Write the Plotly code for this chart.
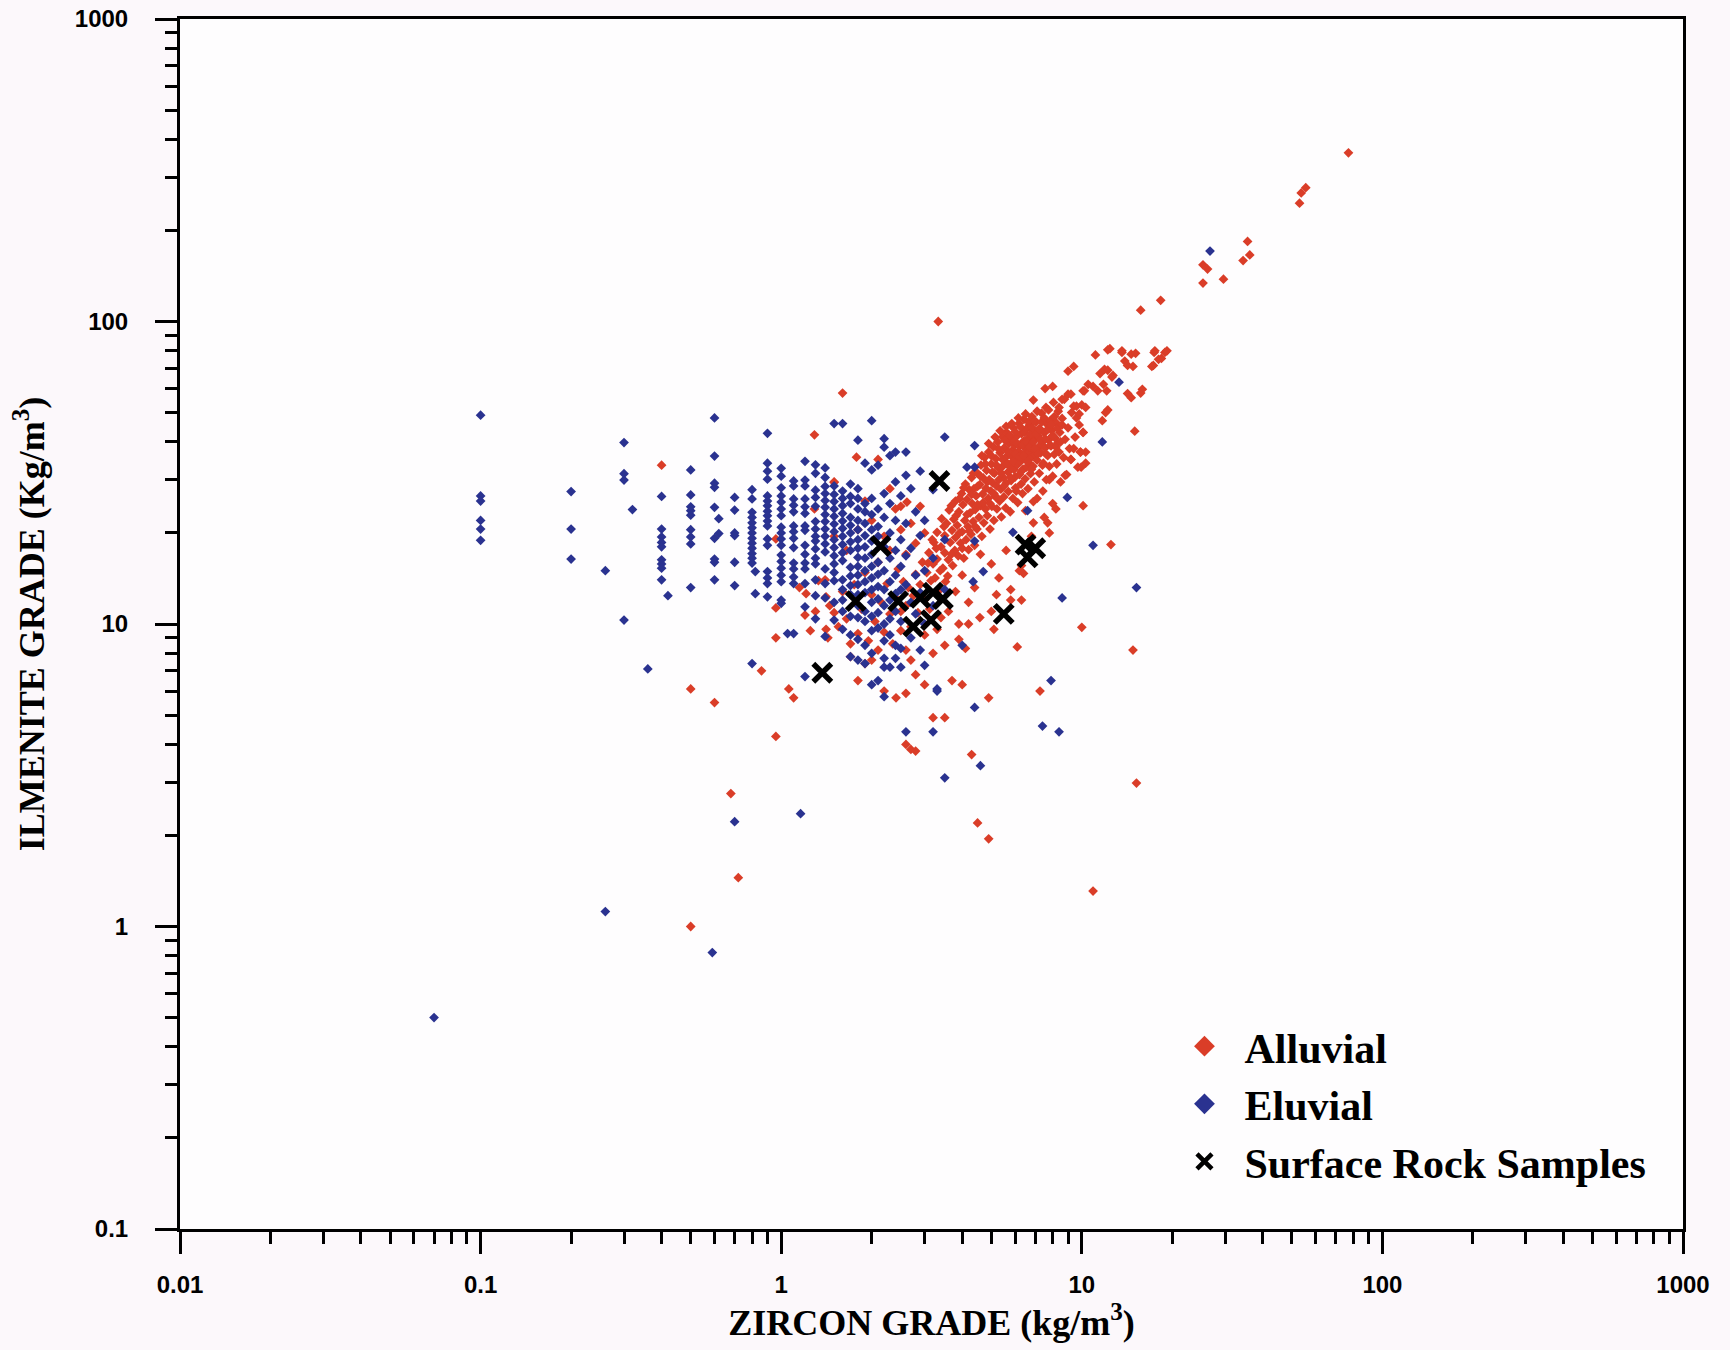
import plotly.graph_objects as go

# ---------------- DATA ----------------
# Eluvial samples: zircon grades are recorded in 0.1 steps below ~3 kg/m3,
# so they are kept as columns (x value -> list of ilmenite grades).
eluvial_col_x = [0.1, 0.2, 0.3, 0.4, 0.5, 0.6, 0.7, 0.8, 0.9, 1.0, 1.1, 1.2, 1.3, 1.4, 1.5,
                 1.6, 1.7, 1.8, 1.9, 2.0, 2.1, 2.2, 2.3, 2.4, 2.5, 2.6, 2.7, 2.8, 2.9, 3.0, 3.2, 3.5]
eluvial_col_y = [
    [49, 26.5, 25.5, 22, 20.6, 18.9],
    [27.4, 20.6, 16.4],
    [39.8, 31.4, 29.9, 10.3],
    [26.4, 20.6, 19.4, 18.6, 18.0, 16.3, 15.8, 15.3, 14.0],
    [32.3, 26.7, 24.4, 23.7, 22.9, 20.5, 19.4, 18.4, 13.2],
    [48, 35.9, 29.2, 28.3, 24.3, 19.2, 16.4, 16.0, 14.0],
    [26.2, 23.8, 20.0, 19.6, 16.0, 13.4, 2.22],
    [27.8, 25.9, 23.4, 22.5, 21.6, 20.8, 20.0, 19.2, 18.5, 17.8, 17.1, 16.5, 15.9, 7.4],
    [42.7, 34.0, 32.0, 30.1, 26.5, 25.5, 24.6, 23.6, 22.8, 21.9, 21.1, 19.1, 18.2, 14.9, 14.2, 13.6, 12.3],
    [32.7, 30.8, 28.2, 26.5, 25.3, 24.0, 22.8, 20.9, 20.0, 19.1, 18.2, 16.9, 16.1, 15.3, 14.5, 13.8, 12.0, 11.7],
    [29.7, 28.6, 25.9, 24.7, 23.5, 21.1, 20.2, 19.2, 17.9, 15.9, 15.2, 14.3, 13.6, 9.3],
    [34.5, 29.9, 28.6, 25.9, 24.4, 23.2, 21.1, 20.4, 18.2, 17.0, 15.9, 15.2, 13.6, 11.4, 6.7],
    [33.6, 31.5, 27.7, 26.2, 24.5, 21.8, 20.6, 19.5, 18.8, 17.7, 16.5, 15.8, 14.0, 12.4, 10.4],
    [32.8, 30.5, 28.5, 27.0, 25.6, 24.3, 23.0, 21.8, 20.6, 19.5, 18.4, 17.3, 15.2, 13.6, 12.2, 9.1],
    [46, 28.6, 26.8, 25.4, 24.0, 22.7, 21.4, 20.2, 19.0, 17.9, 16.8, 15.8, 14.8, 13.9, 11.8, 10.3],
    [46, 27.5, 26.0, 24.6, 23.2, 21.9, 20.7, 19.5, 18.3, 17.2, 16.2, 14.0, 13.0, 12.0, 11.0, 9.6],
    [29.0, 26.4, 25.0, 22.5, 21.2, 20.0, 18.7, 17.5, 15.4, 14.4, 13.4, 12.5, 10.6, 9.2, 7.8],
    [40.5, 28.0, 26.0, 24.0, 22.0, 20.5, 19.0, 17.8, 16.6, 15.5, 14.5, 13.5, 12.5, 11.5, 10.5, 8.9, 7.6],
    [34.0, 25.0, 23.5, 21.5, 19.6, 18.0, 16.5, 15.0, 13.8, 12.7, 11.0, 10.2, 8.5, 7.4],
    [47, 32.3, 26.0, 23.0, 20.5, 18.8, 17.0, 15.5, 14.2, 13.0, 11.8, 10.6, 9.5, 8.0, 6.3],
    [33.5, 24.0, 21.0, 19.5, 16.0, 14.6, 13.3, 12.1, 10.9, 9.7, 6.5],
    [41, 38.4, 27.0, 22.5, 18.0, 15.0, 13.0, 11.5, 10.0, 8.8, 7.7, 7.2, 5.75],
    [36.0, 25.0, 20.0, 16.5, 13.8, 12.0, 10.4, 9.2, 7.2],
    [37, 29.5, 22.0, 17.5, 14.5, 12.6, 11.0, 8.5, 7.7],
    [26.5, 19.0, 15.5, 13.0, 10.2, 8.3, 7.2],
    [37, 31.0, 21.5, 16.8, 13.5, 4.4],
    [28.0, 17.8, 11.8, 9.0],
    [23.5, 14.5, 10.8],
    [32, 19.6, 12.7, 8.2],
    [22.0, 15.0, 10.0, 7.3],
    [27.8, 16.5, 11.5, 4.4],
    [41.5, 19.0, 13.0, 3.1],
]
# Eluvial samples off the 0.1 grid / isolated points
eluvial_extra_x = [0.07, 0.26, 0.26, 0.32, 0.36, 0.42, 0.62, 0.62, 0.82, 0.82, 0.59, 1.05, 1.16,
                   3.3, 4.15, 4.4, 4.4, 4.4, 4.35, 4.7, 4.4, 4.6, 3.3, 5.9, 6.6, 8.95, 10.9,
                   11.7, 13.3, 15.2, 8.6, 7.4, 8.4, 26.7, 7.9, 4.0]
eluvial_extra_y = [0.5, 15.0, 1.12, 23.9, 7.1, 12.4, 22.3, 19.9, 14.9, 12.6, 0.82, 9.3, 2.36,
                   6.1, 33.0, 33.0, 38.9, 18.8, 13.8, 14.9, 5.3, 3.4, 6.0, 20.1, 23.7, 26.2, 18.2,
                   40.0, 63.0, 13.2, 12.2, 4.6, 4.4, 171, 6.5, 8.5]

# Alluvial samples: dense band along the diagonal (x, y)
alluvial_band = [
    (2.6, 11.5), (2.65, 13.2), (2.7, 9.8), (2.75, 12.4), (2.8, 14.6), (2.85, 10.9), (2.9, 13.5),
    (2.95, 16.0), (3.0, 12.0), (3.05, 14.8), (3.1, 17.2), (3.12, 11.2), (3.15, 13.9), (3.2, 15.8),
    (3.22, 18.6),
    (3.25, 14.2), (3.3, 16.4), (3.3, 20.1), (3.35, 12.9), (3.4, 18.0), (3.42, 22.3), (3.45, 15.3),
    (3.5, 17.2), (3.5, 19.6), (3.55, 21.5), (3.58, 14.4), (3.6, 16.3), (3.62, 23.8), (3.65, 18.6),
    (3.7, 20.4), (3.72, 15.6), (3.75, 22.2), (3.78, 17.5), (3.8, 25.5), (3.8, 19.3),
    (3.85, 21.2), (3.88, 16.8), (3.9, 23.5), (3.95, 18.5), (3.98, 27.0), (4.0, 20.2), (4.02, 24.8),
    (4.05, 16.5), (4.08, 22.0), (4.1, 29.0), (4.12, 19.0), (4.15, 25.8), (4.18, 21.0), (4.2, 17.6),
    (4.22, 27.8), (4.25, 23.3), (4.28, 19.8), (4.3, 30.5), (4.32, 25.0), (4.35, 21.8), (4.38, 28.0),
    (4.4, 18.2), (4.42, 23.9), (4.45, 26.5), (4.48, 20.6), (4.5, 31.5),
    (4.55, 22.5), (4.58, 28.9), (4.6, 24.6), (4.62, 33.5), (4.65, 19.5), (4.68, 26.9), (4.7, 30.4),
    (4.72, 21.6), (4.75, 35.5), (4.78, 24.0), (4.8, 28.1), (4.82, 32.2), (4.85, 22.8), (4.88, 26.0),
    (4.9, 37.0), (4.92, 30.0), (4.95, 20.6), (4.98, 27.5), (5.0, 33.8), (5.02, 24.5), (5.05, 29.3),
    (5.08, 38.5), (5.1, 22.0), (5.12, 31.5), (5.15, 26.4), (5.18, 35.2), (5.2, 28.6), (5.22, 24.0),
    (5.25, 40.0), (5.28, 32.8), (5.3, 30.0),
    (5.33, 25.5), (5.35, 36.8), (5.38, 27.9), (5.4, 22.6), (5.42, 33.0), (5.45, 41.5), (5.48, 30.5),
    (5.5, 26.3), (5.52, 38.2), (5.55, 34.6), (5.58, 24.2), (5.6, 29.2), (5.62, 43.0), (5.65, 36.0),
    (5.68, 31.8), (5.7, 27.4), (5.72, 39.5), (5.75, 33.2), (5.78, 23.5), (5.8, 41.0), (5.82, 29.8),
    (5.85, 35.8), (5.88, 37.6), (5.9, 26.0), (5.92, 44.5), (5.95, 32.4), (5.98, 39.0), (6.0, 30.6),
    (6.02, 28.2), (6.05, 35.0), (6.08, 41.8), (6.1, 33.6), (6.12, 25.2), (6.15, 37.2), (6.18, 46.0),
    (6.2, 31.2),
    (6.22, 38.8), (6.25, 34.4), (6.28, 29.0), (6.3, 42.6), (6.32, 36.4), (6.35, 27.0), (6.38, 32.5),
    (6.4, 40.2), (6.42, 47.5), (6.45, 35.2), (6.48, 30.2), (6.5, 38.0), (6.52, 44.0), (6.55, 33.0),
    (6.58, 36.8), (6.6, 41.0), (6.62, 28.0), (6.65, 39.2), (6.68, 34.0), (6.7, 45.5), (6.72, 37.0),
    (6.75, 31.4), (6.78, 42.2), (6.8, 35.6), (6.82, 48.5), (6.85, 39.8), (6.88, 33.2), (6.9, 43.5),
    (6.92, 37.8), (6.95, 29.5), (6.98, 40.8), (7.0, 36.2), (7.05, 46.5), (7.1, 34.8), (7.15, 41.8),
    (7.2, 38.6),
    (7.22, 31.5), (7.25, 44.2), (7.3, 36.8), (7.35, 49.8), (7.4, 40.0), (7.42, 27.5), (7.45, 34.0),
    (7.5, 42.8), (7.55, 38.2), (7.6, 52.0), (7.62, 30.0), (7.65, 45.8), (7.7, 36.0), (7.75, 40.6),
    (7.8, 33.2), (7.85, 47.0), (7.9, 38.8), (7.95, 43.6), (8.0, 30.8), (8.05, 54.0), (8.1, 36.4),
    (8.15, 41.2), (8.2, 46.4), (8.25, 33.8), (8.3, 39.6), (8.35, 50.5), (8.4, 37.0), (8.45, 43.0),
    (8.5, 29.5),
    (8.6, 47.8), (8.7, 35.5), (8.75, 55.3), (8.8, 40.8), (8.9, 31.2), (9.0, 44.5), (9.0, 57.5),
    (9.1, 38.0), (9.2, 35.0), (9.25, 50.0), (9.4, 52.5), (9.5, 41.5), (9.6, 48.0), (9.7, 33.0),
    (9.8, 49.5), (9.9, 37.0), (10.0, 53.0), (10.1, 43.0), (10.2, 59.0), (10.3, 37.0), (10.3, 52.0),
    (10.5, 62.0),
]
# Alluvial samples: further points filling the core of the band
alluvial_core = [
    (3.08, 15.9), (3.18, 19.0), (3.28, 17.8), (3.38, 15.0), (3.48, 21.0), (3.52, 13.8),
    (3.68, 24.6), (3.68, 17.0), (3.82, 22.8), (3.92, 20.0), (3.92, 26.0), (4.0, 17.8),
    (4.05, 28.2), (4.15, 23.0), (4.22, 20.3), (4.3, 26.8), (4.36, 31.5), (4.42, 21.0),
    (4.5, 24.8), (4.5, 28.5),
    (4.6, 30.8), (4.65, 36.0), (4.7, 25.2), (4.78, 33.8), (4.85, 29.5), (4.9, 39.5), (4.95, 25.0),
    (5.0, 36.0), (5.05, 31.8), (5.1, 27.0), (5.15, 41.5), (5.2, 33.5), (5.25, 26.0), (5.3, 37.8),
    (5.35, 43.5), (5.4, 31.5), (5.45, 35.0), (5.5, 28.5), (5.55, 40.5), (5.6, 45.0), (5.65, 33.8),
    (5.7, 37.0), (5.75, 42.0), (5.8, 30.5), (5.85, 46.0), (5.9, 34.5), (5.95, 40.0), (6.0, 36.5),
    (6.0, 43.2), (6.05, 27.5),
    (6.1, 39.5), (6.15, 48.0), (6.2, 35.8), (6.25, 44.8), (6.3, 32.0), (6.35, 39.0), (6.4, 36.0),
    (6.45, 43.0), (6.5, 49.5), (6.55, 40.0), (6.6, 34.5), (6.65, 46.5), (6.7, 38.5), (6.75, 42.5),
    (6.8, 32.5), (6.85, 44.5), (6.9, 40.0), (6.95, 47.0), (7.0, 38.0), (7.05, 42.5), (7.1, 50.5),
    (7.15, 36.5), (7.2, 44.0), (7.3, 40.5), (7.35, 46.5), (7.4, 33.5), (7.5, 48.0), (7.55, 41.0),
    (7.6, 36.5), (7.7, 44.0), (7.75, 51.0), (7.85, 39.0), (7.9, 45.5), (8.0, 42.0), (8.1, 48.5),
    (8.2, 38.5), (8.3, 44.5), (8.4, 52.0), (8.5, 40.0), (8.6, 45.5),
]
# Alluvial samples: upper edge of the band and the high-grade tail
alluvial_tail = [
    (11.1, 77.5), (12.2, 80.6), (13.6, 79), (13.9, 74), (14.6, 78), (15.1, 78.5), (17.4, 79),
    (18.9, 79), (18.0, 75), (17.1, 71), (14.8, 71), (9.0, 68.5), (9.4, 71), (11.5, 67.3),
    (12.2, 69), (12.7, 66.3), (7.55, 60), (8.0, 61), (6.9, 55), (8.6, 55.3), (9.2, 57.5),
    (10.1, 59), (10.9, 61), (11.3, 59), (11.8, 62), (12.1, 59), (14.6, 56), (15.7, 58),
    (12.2, 51), (12.0, 50), (11.7, 47), (15.0, 43.4), (9.6, 52.5), (9.8, 45.5), (10.1, 43),
    (9.9, 37), (10.3, 34), (9.4, 38), (9.95, 33), (9.2, 35), (8.8, 31), (7.8, 30), (7.1, 26),
    (6.9, 25.4), (8.0, 25), (6.5, 23.7), (6.9, 21.6), (7.7, 21.6), (10.1, 24.6), (12.5, 18.3),
    (7.8, 20), (6.3, 15.6), (6.4, 14.7), (5.8, 12.0), (6.3, 12.0),
    (12.4, 81.3), (13.6, 80), (17.5, 80), (19.2, 80), (18.4, 75.5), (17.3, 71.6), (14.2, 71.6),
    (11.9, 69.5), (12.6, 65.5), (15.9, 59.7), (14.2, 57.8), (15.7, 109), (18.3, 117.5),
    (25.3, 154), (26.2, 149), (25.3, 134), (29.6, 138), (35.6, 184), (36.2, 166), (34.4, 159),
    (53.0, 246), (53.7, 266), (55.6, 277), (77.1, 361),
]
# Alluvial samples: mixed zone with eluvial samples and isolated points
alluvial_scatter = [
    (0.4, 33.5), (0.5, 6.1), (0.6, 5.5), (0.68, 2.75), (0.72, 1.45), (0.5, 1.0), (0.96, 4.25),
    (0.86, 7.0), (1.06, 6.1), (1.1, 5.7), (1.29, 42.2), (1.6, 58), (1.5, 29.4), (1.29, 24.0),
    (0.96, 19.1), (1.33, 13.9), (1.21, 12.6), (1.2, 10.7), (1.41, 12.3), (1.41, 9.6), (1.43, 9.0),
    (1.5, 10.9), (0.96, 11.3), (0.96, 9.0), (1.7, 7.8), (1.9, 7.4), (2.0, 7.6), (2.41, 5.7),
    (2.8, 6.8), (3.2, 4.9), (3.5, 4.9), (2.6, 4.0), (2.8, 3.8), (4.3, 3.7), (4.5, 2.2),
    (4.9, 1.95), (4.0, 6.3), (3.7, 6.5), (4.9, 5.7), (7.26, 6.0), (6.1, 8.4), (10.0, 9.75),
    (10.9, 1.31), (15.2, 2.98), (14.8, 8.2), (3.33, 100), (4.58, 10.5), (4.2, 10.0), (3.9, 10.0),
    (3.5, 8.5), (4.1, 8.3), (5.1, 9.6), (2.7, 3.85),
    (1.4, 14.0), (1.45, 11.5), (1.55, 9.8), (1.6, 12.8), (1.65, 10.4), (1.7, 8.6), (1.75, 13.5),
    (1.8, 9.3), (1.85, 11.2), (1.9, 14.8), (1.95, 8.8), (2.0, 12.5), (2.05, 10.2), (2.1, 16.0),
    (2.1, 8.2), (2.15, 11.8), (2.2, 9.4), (2.25, 13.6), (2.3, 17.5), (2.3, 10.8), (2.35, 8.6),
    (2.4, 12.2), (2.45, 15.2), (2.5, 9.5), (2.5, 11.0), (2.55, 13.8), (2.6, 8.2), (2.6, 17.0),
    (1.65, 17.5), (1.8, 20.5), (2.0, 22.0), (2.2, 19.5), (2.4, 24.0), (2.5, 20.5), (2.7, 21.5),
    (2.8, 18.5), (2.9, 24.5), (3.0, 20.0), (1.5, 19.5), (1.9, 25.5), (2.3, 28.0), (1.15, 13.2),
    (1.3, 11.0), (1.25, 9.5), (1.8, 6.5), (2.2, 6.0), (2.6, 5.9), (3.0, 6.3), (2.7, 7.6),
    (3.2, 8.0), (3.0, 9.2), (3.3, 9.6), (2.1, 35.0), (1.78, 35.6), (1.5, 29.5), (2.5, 24.5),
    (2.62, 25.3),
    (4.6, 17.0), (5.0, 15.8), (5.3, 14.2), (5.8, 13.0), (6.2, 15.0), (5.6, 17.5), (6.8, 19.5),
    (7.5, 22.5), (8.2, 24.0), (5.2, 12.5), (4.4, 13.2), (4.0, 14.5), (3.8, 12.8), (4.2, 11.8),
    (3.6, 11.0), (3.4, 10.5), (5.0, 11.0), (3.9, 8.9),
]

# Surface rock samples
rock_x = [3.36, 2.14, 1.77, 2.45, 2.9, 3.2, 3.45, 2.75, 3.15, 5.5, 6.5, 7.0, 6.6, 1.37]
rock_y = [29.7, 18.1, 11.9, 11.9, 12.2, 12.7, 12.1, 9.8, 10.3, 10.8, 18.3, 17.8, 16.6, 6.9]

# Axis ticks
x_tick_vals = [0.01, 0.1, 1, 10, 100, 1000]
x_tick_text = ["0.01", "0.1", "1", "10", "100", "1000"]
y_tick_vals = [0.1, 1, 10, 100, 1000]
y_tick_text = ["0.1", "1", "10", "100", "1000"]

# ---------------- BUILD ----------------
eluvial_x, eluvial_y = [], []
for cx, ys in zip(eluvial_col_x, eluvial_col_y):
    for yv in ys:
        eluvial_x.append(cx)
        eluvial_y.append(yv)
eluvial_x += eluvial_extra_x
eluvial_y += eluvial_extra_y

alluvial_all = alluvial_band + alluvial_core + alluvial_tail + alluvial_scatter
alluvial_x = [p[0] for p in alluvial_all]
alluvial_y = [p[1] for p in alluvial_all]

RED = "#da3d28"
BLUE = "#2a3290"
SERIF = "Liberation Serif"
SANS = "Liberation Sans"

minor_x = [m * 10.0 ** e for e in range(-2, 3) for m in range(2, 10)]
minor_y = [m * 10.0 ** e for e in range(-1, 3) for m in range(2, 10)]

fig = go.Figure()
fig.add_trace(go.Scatter(x=alluvial_x, y=alluvial_y, mode="markers", showlegend=False,
                         marker=dict(symbol="diamond", size=7.5, color=RED, line=dict(width=0))))
fig.add_trace(go.Scatter(x=eluvial_x, y=eluvial_y, mode="markers", showlegend=False,
                         marker=dict(symbol="diamond", size=7.5, color=BLUE, line=dict(width=0))))
fig.add_trace(go.Scatter(x=rock_x, y=rock_y, mode="markers", showlegend=False,
                         marker=dict(symbol="x-thin", size=18, color="black",
                                     line=dict(width=5.5, color="black"))))

# legend entries
fig.add_trace(go.Scatter(x=[None], y=[None], mode="markers", name="Alluvial",
                         marker=dict(symbol="diamond", size=16, color=RED)))
fig.add_trace(go.Scatter(x=[None], y=[None], mode="markers", name="Eluvial",
                         marker=dict(symbol="diamond", size=16, color=BLUE)))
fig.add_trace(go.Scatter(x=[None], y=[None], mode="markers", name="Surface Rock Samples",
                         marker=dict(symbol="x-thin", size=15, color="black",
                                     line=dict(width=4.5, color="black"))))

axis_common = dict(
    type="log", showgrid=False, zeroline=False, showline=True, linecolor="black",
    linewidth=3, mirror=True, ticks="outside", ticklen=22, tickwidth=3, tickcolor="black",
    tickmode="array", automargin=False,
    tickfont=dict(family=SANS, size=24, color="black", weight="bold"),
)

fig.update_xaxes(
    **axis_common, range=[-2, 3], tickvals=x_tick_vals, ticktext=x_tick_text,
    ticklabelstandoff=10,
    minor=dict(tickmode="array", tickvals=minor_x, ticks="outside", ticklen=12, tickwidth=3,
               tickcolor="black", showgrid=False),
    title=dict(text="ZIRCON GRADE (kg/m<sup>3</sup>)", standoff=14,
               font=dict(family=SERIF, size=36, color="black", weight="bold")),
)
fig.update_yaxes(
    **axis_common, range=[-1, 3], tickvals=y_tick_vals, ticktext=y_tick_text,
    ticklabelstandoff=22,
    minor=dict(tickmode="array", tickvals=minor_y, ticks="outside", ticklen=12, tickwidth=3,
               tickcolor="black", showgrid=False),
    title=dict(text="ILMENITE GRADE (Kg/m<sup>3</sup>)", standoff=20,
               font=dict(family=SERIF, size=36, color="black", weight="bold")),
)

fig.update_layout(
    width=1730, height=1350,
    margin=dict(l=180, r=47, t=19, b=121),
    paper_bgcolor="#fcf8fb",
    plot_bgcolor="#fefdfe",
    legend=dict(x=0.655, y=0.179, xanchor="left", yanchor="top",
                bgcolor="rgba(0,0,0,0)", borderwidth=0, itemsizing="trace", itemwidth=70,
                font=dict(family=SERIF, size=42, color="black", weight="bold"),
                tracegroupgap=0),
)

fig.write_html("out.html")
